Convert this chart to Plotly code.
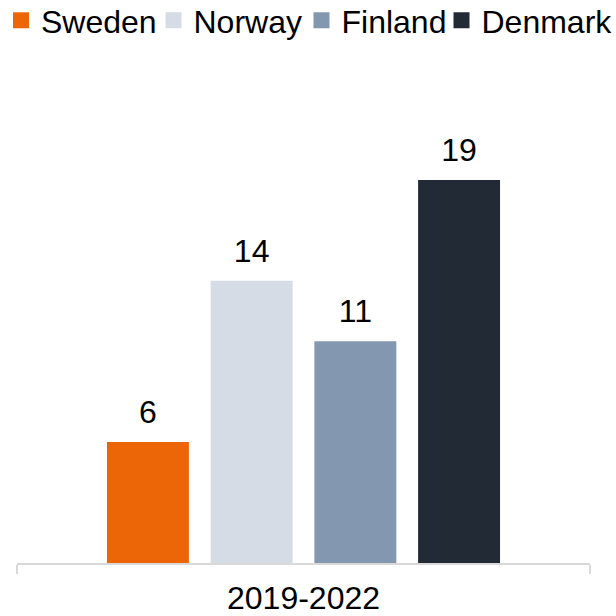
import plotly.graph_objects as go

category = ["2019-2022"]
countries = ["Sweden", "Norway", "Finland", "Denmark"]
values = [6, 14, 11, 19]
colors = ["#EC6608", "#D6DCE5", "#8497B0", "#222A35"]

FONT = "Liberation Sans, Arial, sans-serif"
W, H = 616, 616
M = dict(l=17, r=26, t=59, b=53)
legend_ids = ["legend", "legend2", "legend3", "legend4"]
legend_left_px = [1.0, 153.5, 301.5, 441.5]

fig = go.Figure()
for name, v, c in zip(countries, values, colors):
    fig.add_trace(go.Bar(
        x=category, y=[v], name=name, marker_color=c, marker_line_width=0,
        offsetgroup=name, showlegend=False, hoverinfo="skip",
    ))
for name, v, c in zip(countries, values, colors):
    fig.add_trace(go.Scatter(
        x=category, y=[v], mode="markers+text", text=[str(v)],
        textposition="top center", textfont=dict(size=32, color="#000000", family=FONT),
        marker=dict(size=16, opacity=0, color=c), offsetgroup=name,
        showlegend=False, hoverinfo="skip", cliponaxis=False,
    ))
for name, c, lid in zip(countries, colors, legend_ids):
    fig.add_trace(go.Scatter(
        x=[None], y=[None], mode="markers", name=name, offsetgroup=name,
        marker=dict(symbol="square", size=16, color=c), legend=lid,
    ))

plot_h = H - M["t"] - M["b"]
legend_y = 1 + (M["t"] + 7) / plot_h
legend_layout = {}
for lid, px in zip(legend_ids, legend_left_px):
    legend_layout[lid] = dict(
        orientation="h", xref="container", yref="paper",
        x=px / W, xanchor="left", y=legend_y, yanchor="top",
        font=dict(size=32, family=FONT, color="#000000"),
        itemsizing="trace", bgcolor="rgba(0,0,0,0)",
    )

fig.update_layout(
    width=W, height=H,
    margin=dict(**M, autoexpand=False),
    paper_bgcolor="white", plot_bgcolor="white",
    barmode="group", scattermode="group",
    bargap=0.276, bargroupgap=0.21,
    font=dict(family=FONT, size=32, color="#000000"),
    showlegend=True,
    xaxis=dict(
        type="category", showline=True, linecolor="#D9D9D9", linewidth=2,
        ticks="outside", tickson="boundaries", ticklen=9, tickcolor="#D9D9D9", tickwidth=2,
        tickfont=dict(size=32, family=FONT, color="#000000"),
        ticklabelstandoff=6, automargin=False,
        showgrid=False, zeroline=False,
    ),
    yaxis=dict(range=[0, 25], visible=False, showgrid=False, zeroline=False),
    **legend_layout,
)

fig.write_html("out.html")
